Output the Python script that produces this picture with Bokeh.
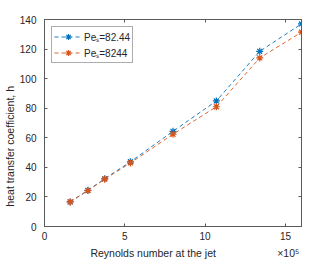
from bokeh.plotting import figure
from bokeh.models import (Range1d, LinearAxis, FixedTicker, CustomJSTickFormatter,
                          Legend, LegendItem)
from bokeh.embed import file_html
from bokeh.resources import INLINE

# data (Reynolds number in units of 1e5)
reynolds = [1.6, 2.7, 3.75, 5.35, 8.0, 10.7, 13.4, 16.0]
h_pe_82_44 = [16.6, 24.5, 32.3, 43.8, 64.4, 84.9, 118.5, 137.0]
h_pe_8244 = [16.6, 24.3, 32.0, 43.0, 62.4, 81.0, 114.0, 131.4]
series_labels = ["Peₛ=82.44", "Peₛ=8244"]
x_ticks = [0, 5, 10, 15]
y_ticks = [0, 20, 40, 60, 80, 100, 120, 140]
x_label = "Reynolds number at the jet"
x_exponent = "×10⁵"
y_label = "heat transfer coefficient, h"

FONT = "Liberation Sans"
TXT = "#262626"
AX = "#5a5a5a"
BLUE = "#0072BD"
ORANGE = "#D95319"
NB = "\u00a0"

p = figure(width=332, height=261, output_backend="svg", toolbar_location=None,
           x_range=Range1d(0, 16), y_range=Range1d(0, 140),
           min_border_left=43, min_border_right=31, min_border_top=19, min_border_bottom=35)
p.xgrid.visible = False
p.ygrid.visible = False
p.outline_line_color = AX
p.outline_line_width = 1

def style(ax, ticks, labels=True):
    ax.ticker = FixedTicker(ticks=ticks)
    ax.major_tick_in = 3
    ax.major_tick_out = 0
    ax.minor_tick_in = 0
    ax.minor_tick_out = 0
    ax.axis_line_color = AX
    ax.major_tick_line_color = AX
    ax.major_label_text_font = FONT
    ax.major_label_text_font_size = "10px"
    ax.major_label_text_color = TXT
    ax.axis_label_text_font = FONT
    ax.axis_label_text_font_size = "10.5px"
    ax.axis_label_text_font_style = "normal"
    ax.axis_label_text_color = TXT
    if not labels:
        ax.formatter = CustomJSTickFormatter(code="return ''")
        ax.major_label_standoff = 0
        ax.major_label_text_font_size = "1px"

style(p.xaxis[0], x_ticks)
style(p.yaxis[0], y_ticks)
# label positioned like the reference, with the exponent pushed to the right end
p.xaxis[0].axis_label = NB * 15 + x_label + NB * 21 + x_exponent
p.xaxis[0].major_label_standoff = 5
p.xaxis[0].axis_label_standoff = 4
p.yaxis[0].axis_label = y_label + NB * 16
p.yaxis[0].major_label_standoff = 8
p.yaxis[0].axis_label_standoff = 1

top = LinearAxis()
style(top, x_ticks, labels=False)
p.add_layout(top, "above")
right = LinearAxis()
style(right, y_ticks, labels=False)
p.add_layout(right, "right")

items = []
for ys, col, lab in [(h_pe_82_44, BLUE, series_labels[0]), (h_pe_8244, ORANGE, series_labels[1])]:
    l = p.line(reynolds, ys, line_color=col, line_width=0.9, line_dash="4 3")
    s = p.scatter(reynolds, ys, marker="asterisk", size=7, line_color=col, line_width=1.2)
    items.append(LegendItem(label=lab, renderers=[l, s]))

legend = Legend(items=items, location="top_left", margin=7, padding=2, spacing=1,
                glyph_width=28, glyph_height=15, label_height=15, label_standoff=2,
                label_text_font=FONT, label_text_font_size="10px", label_text_color=TXT,
                border_line_color=AX, border_line_width=1)
p.add_layout(legend)

open("out.html", "w").write(file_html(p, INLINE))
